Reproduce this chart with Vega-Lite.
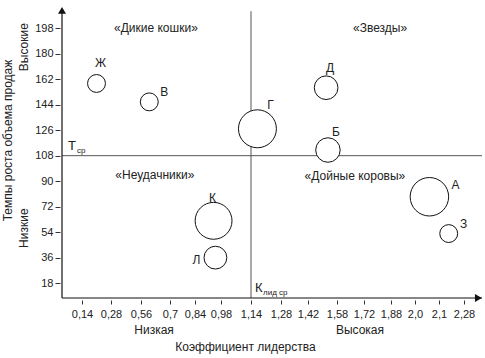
{
  "$schema": "https://vega.github.io/schema/vega-lite/v6.json",
  "width": 420,
  "height": 291,
  "autosize": {"type": "none"},
  "padding": {"left": 62, "top": 7, "right": 3, "bottom": 60},
  "background": "white",
  "config": {
    "view": {"stroke": null},
    "font": "Liberation Sans",
    "text": {"font": "Liberation Sans", "color": "#222"}
  },
  "datasets": {
    "bubbles": [
      {"name": "Ж", "x": 0.21, "y": 159, "volume": 8},
      {"name": "В", "x": 0.6, "y": 146, "volume": 8},
      {"name": "Г", "x": 1.17, "y": 127, "volume": 36},
      {"name": "Д", "x": 1.52, "y": 156, "volume": 14},
      {"name": "Б", "x": 1.53, "y": 112, "volume": 15},
      {"name": "А", "x": 2.06, "y": 79, "volume": 37},
      {"name": "З", "x": 2.17, "y": 53, "volume": 8},
      {"name": "К", "x": 0.94, "y": 62, "volume": 34},
      {"name": "Л", "x": 0.95, "y": 36, "volume": 13}
    ],
    "lines": [
      {"kind": "axis", "x": 0, "x2": 2.42, "y": 7.5, "y2": 7.5},
      {"kind": "axis", "x": 0, "x2": 0, "y": 7.5, "y2": 211},
      {"kind": "ref", "x": 0, "x2": 2.42, "y": 108, "y2": 108},
      {"kind": "ref", "x": 1.14, "x2": 1.14, "y": 7.5, "y2": 210}
    ],
    "arrows": [
      {"dir": "up", "x": 0, "y": 210.6},
      {"dir": "right", "x": 2.392, "y": 7.5}
    ],
    "quadrants": [
      {"label": "«Дикие кошки»", "x": 0.632, "y": 198},
      {"label": "«Звезды»", "x": 1.815, "y": 198},
      {"label": "«Неудачники»", "x": 0.627, "y": 94.5},
      {"label": "«Дойные коровы»", "x": 1.673, "y": 94}
    ],
    "mainsym": [
      {"label": "Т", "x": 0.042, "y": 112},
      {"label": "К", "x": 1.159, "y": 11.6}
    ],
    "subsym": [
      {"label": "ср", "x": 0.105, "y": 109.8},
      {"label": "лид ср", "x": 1.196, "y": 9.3}
    ],
    "sidelabels": [
      {"label": "Высокие", "x": -0.266, "y": 184.6},
      {"label": "Низкие", "x": -0.266, "y": 56.8}
    ],
    "bottomlabels": [
      {"label": "Низкая", "x": 0.623, "y": -15},
      {"label": "Высокая", "x": 1.699, "y": -15}
    ]
  },
  "encoding": {
    "x": {
      "field": "x",
      "type": "quantitative",
      "scale": {
        "domain": [0, 0.14, 0.28, 0.56, 0.7, 0.84, 0.98, 1.14, 1.28, 1.42, 1.58, 1.72, 1.88, 2.0, 2.1, 2.28, 2.42],
        "range": [0, 20, 49, 79, 108, 133, 159, 189, 219, 246, 275, 302, 329, 353, 377, 402, 420],
        "nice": false,
        "zero": false
      },
      "axis": {
        "values": [0.14, 0.28, 0.56, 0.7, 0.84, 0.98, 1.14, 1.28, 1.42, 1.58, 1.72, 1.88, 2.0, 2.1, 2.28],
        "labelExpr": "datum.value == 2 ? '2,0' : replace(format(datum.value, '.2~f'), '.', ',')",
        "domain": false,
        "grid": false,
        "offset": 2,
        "tickSize": 4,
        "tickColor": "#333",
        "labelPadding": 4,
        "labelFontSize": 11,
        "labelColor": "#222",
        "labelFont": "Liberation Sans",
        "labelOverlap": false,
        "title": "Коэффициент лидерства",
        "titleFont": "Liberation Sans",
        "titleFontSize": 12,
        "titleFontWeight": "normal",
        "titleColor": "#222",
        "titleX": 183,
        "titleY": 46,
        "titleBaseline": "middle",
        "titleAnchor": null
      }
    },
    "y": {
      "field": "y",
      "type": "quantitative",
      "scale": {"domain": [7.5, 213], "nice": false, "zero": false},
      "axis": {
        "values": [18, 36, 54, 72, 90, 108, 126, 144, 162, 180, 198],
        "format": "d",
        "domain": false,
        "grid": false,
        "offset": 2,
        "tickSize": 5,
        "tickColor": "#333",
        "labelPadding": 2,
        "labelFontSize": 11,
        "labelColor": "#222",
        "labelFont": "Liberation Sans",
        "labelOverlap": false,
        "title": "Темпы роста объема продаж",
        "titleFont": "Liberation Sans",
        "titleFontSize": 12,
        "titleFontWeight": "normal",
        "titleColor": "#222",
        "titleAngle": -90,
        "titleX": -53,
        "titleY": 133,
        "titleBaseline": "middle",
        "titleAlign": "center"
      }
    }
  },
  "layer": [
    {
      "data": {"name": "lines"},
      "transform": [{"filter": "datum.kind == 'ref'"}],
      "mark": {"type": "rule", "color": "#555", "strokeWidth": 1},
      "encoding": {"x2": {"field": "x2"}, "y2": {"field": "y2"}}
    },
    {
      "data": {"name": "lines"},
      "transform": [{"filter": "datum.kind == 'axis'"}],
      "mark": {"type": "rule", "color": "#111", "strokeWidth": 1.2},
      "encoding": {"x2": {"field": "x2"}, "y2": {"field": "y2"}}
    },
    {
      "data": {"name": "arrows"},
      "mark": {"type": "point", "filled": true, "color": "#111", "size": 64, "opacity": 1},
      "encoding": {
        "shape": {"field": "dir", "type": "nominal", "scale": {"domain": ["up", "right"], "range": ["triangle-up", "triangle-right"]}, "legend": null}
      }
    },
    {
      "data": {"name": "bubbles"},
      "mark": {"type": "point", "shape": "circle", "filled": false, "fill": "white", "fillOpacity": 1, "stroke": "#111", "strokeWidth": 1, "opacity": 1},
      "encoding": {
        "size": {"field": "volume", "type": "quantitative", "scale": {"domain": [0, 36], "range": [0, 1440]}, "legend": null}
      }
    },
    {
      "data": {"name": "bubbles"},
      "transform": [{"filter": {"field": "name", "oneOf": ["Ж", "Д"]}}],
      "mark": {"type": "text", "color": "#222", "fontSize": 12, "dx": 4, "dy": -20, "baseline": "middle", "align": "center"},
      "encoding": {"text": {"field": "name"}}
    },
    {
      "data": {"name": "bubbles"},
      "transform": [{"filter": {"field": "name", "oneOf": ["К"]}}],
      "mark": {"type": "text", "color": "#222", "fontSize": 12, "dx": -1, "dy": -23, "baseline": "middle", "align": "center"},
      "encoding": {"text": {"field": "name"}}
    },
    {
      "data": {"name": "bubbles"},
      "transform": [{"filter": {"field": "name", "oneOf": ["В", "З"]}}],
      "mark": {"type": "text", "color": "#222", "fontSize": 12, "dx": 15, "dy": -10, "baseline": "middle", "align": "center"},
      "encoding": {"text": {"field": "name"}}
    },
    {
      "data": {"name": "bubbles"},
      "transform": [{"filter": {"field": "name", "oneOf": ["Б"]}}],
      "mark": {"type": "text", "color": "#222", "fontSize": 12, "dx": 8, "dy": -18, "baseline": "middle", "align": "center"},
      "encoding": {"text": {"field": "name"}}
    },
    {
      "data": {"name": "bubbles"},
      "transform": [{"filter": {"field": "name", "oneOf": ["Г"]}}],
      "mark": {"type": "text", "color": "#222", "fontSize": 12, "dx": 13, "dy": -24, "baseline": "middle", "align": "center"},
      "encoding": {"text": {"field": "name"}}
    },
    {
      "data": {"name": "bubbles"},
      "transform": [{"filter": {"field": "name", "oneOf": ["А"]}}],
      "mark": {"type": "text", "color": "#222", "fontSize": 12, "dx": 26, "dy": -12, "baseline": "middle", "align": "center"},
      "encoding": {"text": {"field": "name"}}
    },
    {
      "data": {"name": "bubbles"},
      "transform": [{"filter": {"field": "name", "oneOf": ["Л"]}}],
      "mark": {"type": "text", "color": "#222", "fontSize": 12, "dx": -19, "dy": 2, "baseline": "middle", "align": "center"},
      "encoding": {"text": {"field": "name"}}
    },
    {
      "data": {"name": "quadrants"},
      "mark": {"type": "text", "color": "#222", "fontSize": 12, "baseline": "middle", "align": "center"},
      "encoding": {"text": {"field": "label"}}
    },
    {
      "data": {"name": "mainsym"},
      "mark": {"type": "text", "color": "#222", "fontSize": 13, "baseline": "alphabetic", "align": "left"},
      "encoding": {"text": {"field": "label"}}
    },
    {
      "data": {"name": "subsym"},
      "mark": {"type": "text", "color": "#222", "fontSize": 8, "baseline": "alphabetic", "align": "left"},
      "encoding": {"text": {"field": "label"}}
    },
    {
      "data": {"name": "sidelabels"},
      "mark": {"type": "text", "color": "#222", "fontSize": 12, "angle": 270, "baseline": "middle", "align": "center"},
      "encoding": {"text": {"field": "label"}}
    },
    {
      "data": {"name": "bottomlabels"},
      "mark": {"type": "text", "color": "#222", "fontSize": 12, "baseline": "middle", "align": "center"},
      "encoding": {"text": {"field": "label"}}
    }
  ]
}
